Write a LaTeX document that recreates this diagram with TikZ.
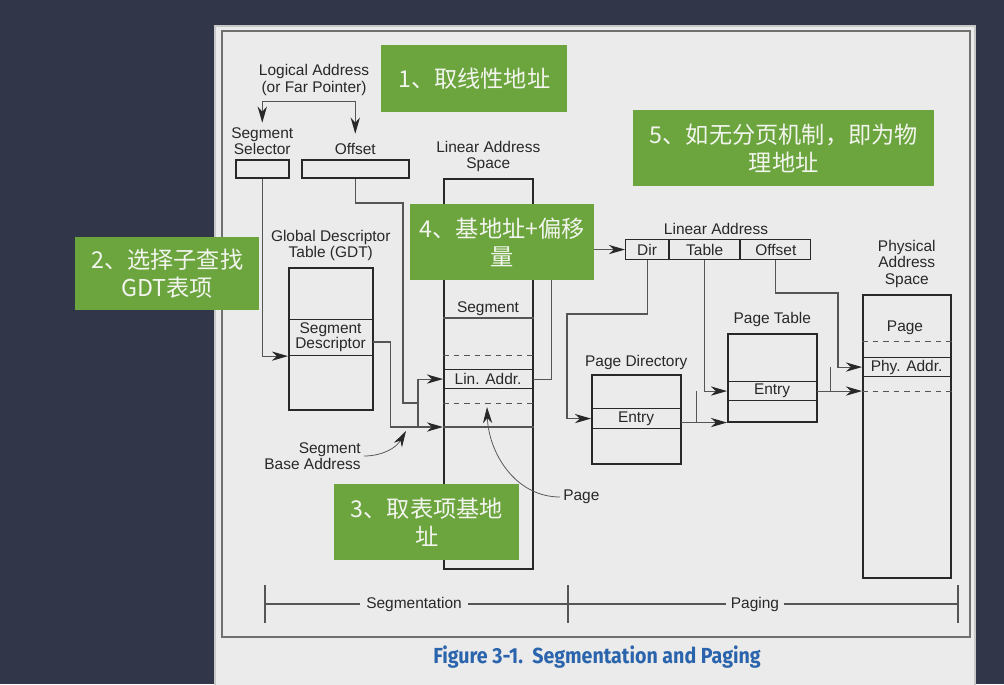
\documentclass[tikz,border=0pt]{standalone}
\usepackage{fontspec}
\setmainfont{Liberation Sans}
\newfontfamily\cjkfont{Noto Sans CJK SC}
\newfontfamily\capfont[FakeStretch=0.9]{Fira Sans}
\usepackage{tikz}
\usetikzlibrary{arrows.meta, calc, positioning}
\usepackage{xcolor}

\definecolor{slidebg}{RGB}{49,55,72}
\definecolor{panelbg}{RGB}{235,235,235}
\definecolor{paneledge}{RGB}{200,200,200}
\definecolor{framegray}{RGB}{112,112,112}
\definecolor{inkgray}{RGB}{40,40,40}
\definecolor{wiregray}{RGB}{85,85,85}
\definecolor{notegreen}{RGB}{108,165,62}
\definecolor{notetext}{RGB}{242,245,238}
\definecolor{capblue}{RGB}{42,100,172}

\tikzset{
  dims/.style 2 args={minimum width=#1*0.025cm, minimum height=#2*0.025cm},
  lbl/.style={font=\fontsize{11}{11.6}\selectfont, text=inkgray, align=center, inner sep=0pt},
  memblock/.style={draw=inkgray, line width=1.1pt, anchor=north west, inner sep=0pt},
  rowcell/.style={memblock, line width=0.8pt, font=\fontsize{11}{10.8}\selectfont,
    text=inkgray, align=center},
  wire/.style={draw=wiregray, line width=0.75pt},
  feed/.style={wire, -{Stealth[length=11.5pt, width=6.6pt, inset=3.6pt, color=inkgray]}},
  hint/.style={feed, line width=0.55pt},
  gapline/.style={wiregray, line width=0.7pt, dash pattern=on 4pt off 3.5pt},
  note/.style={fill=notegreen, text=notetext, anchor=north west, inner sep=0pt,
    font=\cjkfont\fontsize{16.5}{20}\selectfont, align=center}
}

\begin{document}
\begin{tikzpicture}[x=0.025cm, y=-0.025cm]
\useasboundingbox (0,0) rectangle (1004,684);
\fill[slidebg] (0,0) rectangle (1004,684);
\filldraw[fill=panelbg, draw=paneledge, line width=0.8pt] (215,26) rectangle (975,690);
\draw[framegray, line width=1.5pt] (222,31) rectangle (970,637);

% logical address
\node[lbl] (logaddr) at (314,80) {Logical Address\\(or Far Pointer)};
\node[memblock, dims={53}{18}] (selbox) at (235,159) {};
\node[memblock, dims={107}{18}] (offbox) at (301,159) {};
\node[lbl, above=3pt of selbox] (selname) {Segment\\Selector};
\node[lbl, above=3pt of offbox] (offname) {Offset};
\coordinate (bar) at ($(logaddr.south)+(0,6)$);
\draw[feed] (bar) -| ([yshift=3pt]selname.north);
\draw[feed] (bar) -| ([yshift=6.5pt]offname.north);

% descriptor table
\node[memblock, dims={84}{142}] (gdt) at (288,267) {};
\node[rowcell, dims={84}{36}] (sdesc) at (288,319) {Segment\\Descriptor};
\node[lbl, above=4pt of gdt] (gdtname) {Global Descriptor\\Table (GDT)};

% linear address space
\node[memblock, dims={89}{390}] (las) at (443,178) {};
\node[lbl, above=4pt of las] (lasname) {Linear Address\\Space};
\node[rowcell, dims={89}{19}] (linaddr) at (443,369) {Lin. Addr.};
\node[lbl] (segname) at (488,309) {Segment};
\draw[wire] (las.west |- 0,318) -- (las.east |- 0,318);
\draw[wire] (las.west |- 0,427) -- (las.east |- 0,427);
\draw[gapline] (las.west |- 0,355) -- (las.east |- 0,355);
\draw[gapline] (las.west |- 0,403) -- (las.east |- 0,403);

\coordinate (segbase) at (las.west |- 0,427);
\coordinate (adder) at (418,427);
\draw[feed] (selbox.south) |- (sdesc.south west);
\draw[feed] (sdesc.east |- 0,342) -- ++(17,0) |- (segbase);
\draw[wire] (offbox.south) |- (403,203) |- (adder |- 0,403);
\draw[feed] (adder) |- (linaddr.west);

\node[lbl, align=right, anchor=east] (sbaname) at (361,456) {Segment\\Base Address};
\coordinate (basetip) at (406,431);
\draw[hint] ([xshift=2pt]sbaname.east) to[out=0, in=-120] (basetip);
\node[lbl, anchor=west] (pagename) at (563,497) {Page};
\coordinate (pagetip) at (487,407);
\draw[hint] ([xshift=-2pt]pagename.west) to[out=180, in=-88] (pagetip);

% linear address fields
\node[rowcell, dims={43}{20}] (ladir) at (625,239) {Dir};
\node[rowcell, dims={70}{20}] (latab) at (ladir.north east) {Table};
\node[rowcell, dims={70}{20}] (laoff) at (latab.north east) {Offset};
\node[lbl] (laname) at (716,229) {Linear Address};
\draw[feed] (linaddr.east) -- ++(18,0) |- (ladir.west);

% page directory and page table
\node[memblock, dims={89}{89}] (pd) at (591,374) {};
\node[rowcell, dims={89}{20}] (pdentry) at (591,408) {Entry};
\node[lbl, above=3pt of pd] (pdname) {Page Directory};
\node[memblock, dims={89}{88}] (pt) at (727,333) {};
\node[rowcell, dims={89}{19}] (ptentry) at (727,381) {Entry};
\node[lbl, above=4pt of pt] (ptname) {Page Table};

\draw[feed] (ladir.south) |- (567,314) |- (pdentry.west);
\draw[feed] (latab.south) |- (ptentry.west);
\draw[feed] (pdentry.east |- pt.south) -- (pt.south west);
\coordinate (pdjoin) at ($(pdentry.east |- pt.south)+(15,0)$);
\draw[wire] (pdjoin) -- (pdjoin |- ptentry.west);

% physical address space
\node[memblock, dims={88}{283}] (pas) at (862,294) {};
\node[lbl, above=4.5pt of pas] (pasname) {Physical\\Address\\Space};
\node[rowcell, dims={88}{19}] (phyaddr) at (862,357) {Phy. Addr.};
\node[lbl] (pagecell) at (905,328) {Page};
\draw[gapline] (pas.west |- 0,341) -- (pas.east |- 0,341);
\draw[gapline] (pas.west |- 0,391) -- (pas.east |- 0,391);

\draw[feed] (laoff.south) |- (838,293) |- (phyaddr.west);
\draw[feed] (ptentry.east) -- (pas.west |- ptentry.east);
\coordinate (ptjoin) at ($(ptentry.east)+(13,0)$);
\draw[wire] (ptjoin) -- (ptjoin |- phyaddr.west);

% segmentation / paging scale
\foreach \t in {265,568,958}
  \draw[wire] (\t,585) -- (\t,623);
\coordinate (segL) at (265,604);
\coordinate (segM) at (568,604);
\coordinate (segR) at (958,604);
\node[lbl, fill=panelbg, inner xsep=4pt] (segtxt) at (414,604) {Segmentation};
\node[lbl, fill=panelbg, inner xsep=3pt] (pagtxt) at (755,604) {Paging};
\draw[wire] (segL) -- (segtxt.west);
\draw[wire] (segtxt.east) -- (segM);
\draw[wire] (segM) -- (pagtxt.west);
\draw[wire] (pagtxt.east) -- (segR);

\node[font=\capfont\bfseries\fontsize{15.5}{17}\selectfont, text=capblue] (caption)
  at (597,657) {Figure 3-1.\ \ Segmentation and Paging};

% green notes
\node[note, dims={186}{67}] (step1) at (381,45) {1、取线性地址};
\node[note, dims={184}{73}] (step2) at (75,237) {2、选择子查找\\GDT表项};
\node[note, dims={185}{76}] (step3) at (334,484) {3、取表项基地\\址};
\node[note, dims={184}{76}] (step4) at (410,204) {4、基地址+偏移\\量};
\node[note, dims={301}{76}] (step5) at (633,110) {5、如无分页机制，即为物\\理地址};
\end{tikzpicture}
\end{document}
